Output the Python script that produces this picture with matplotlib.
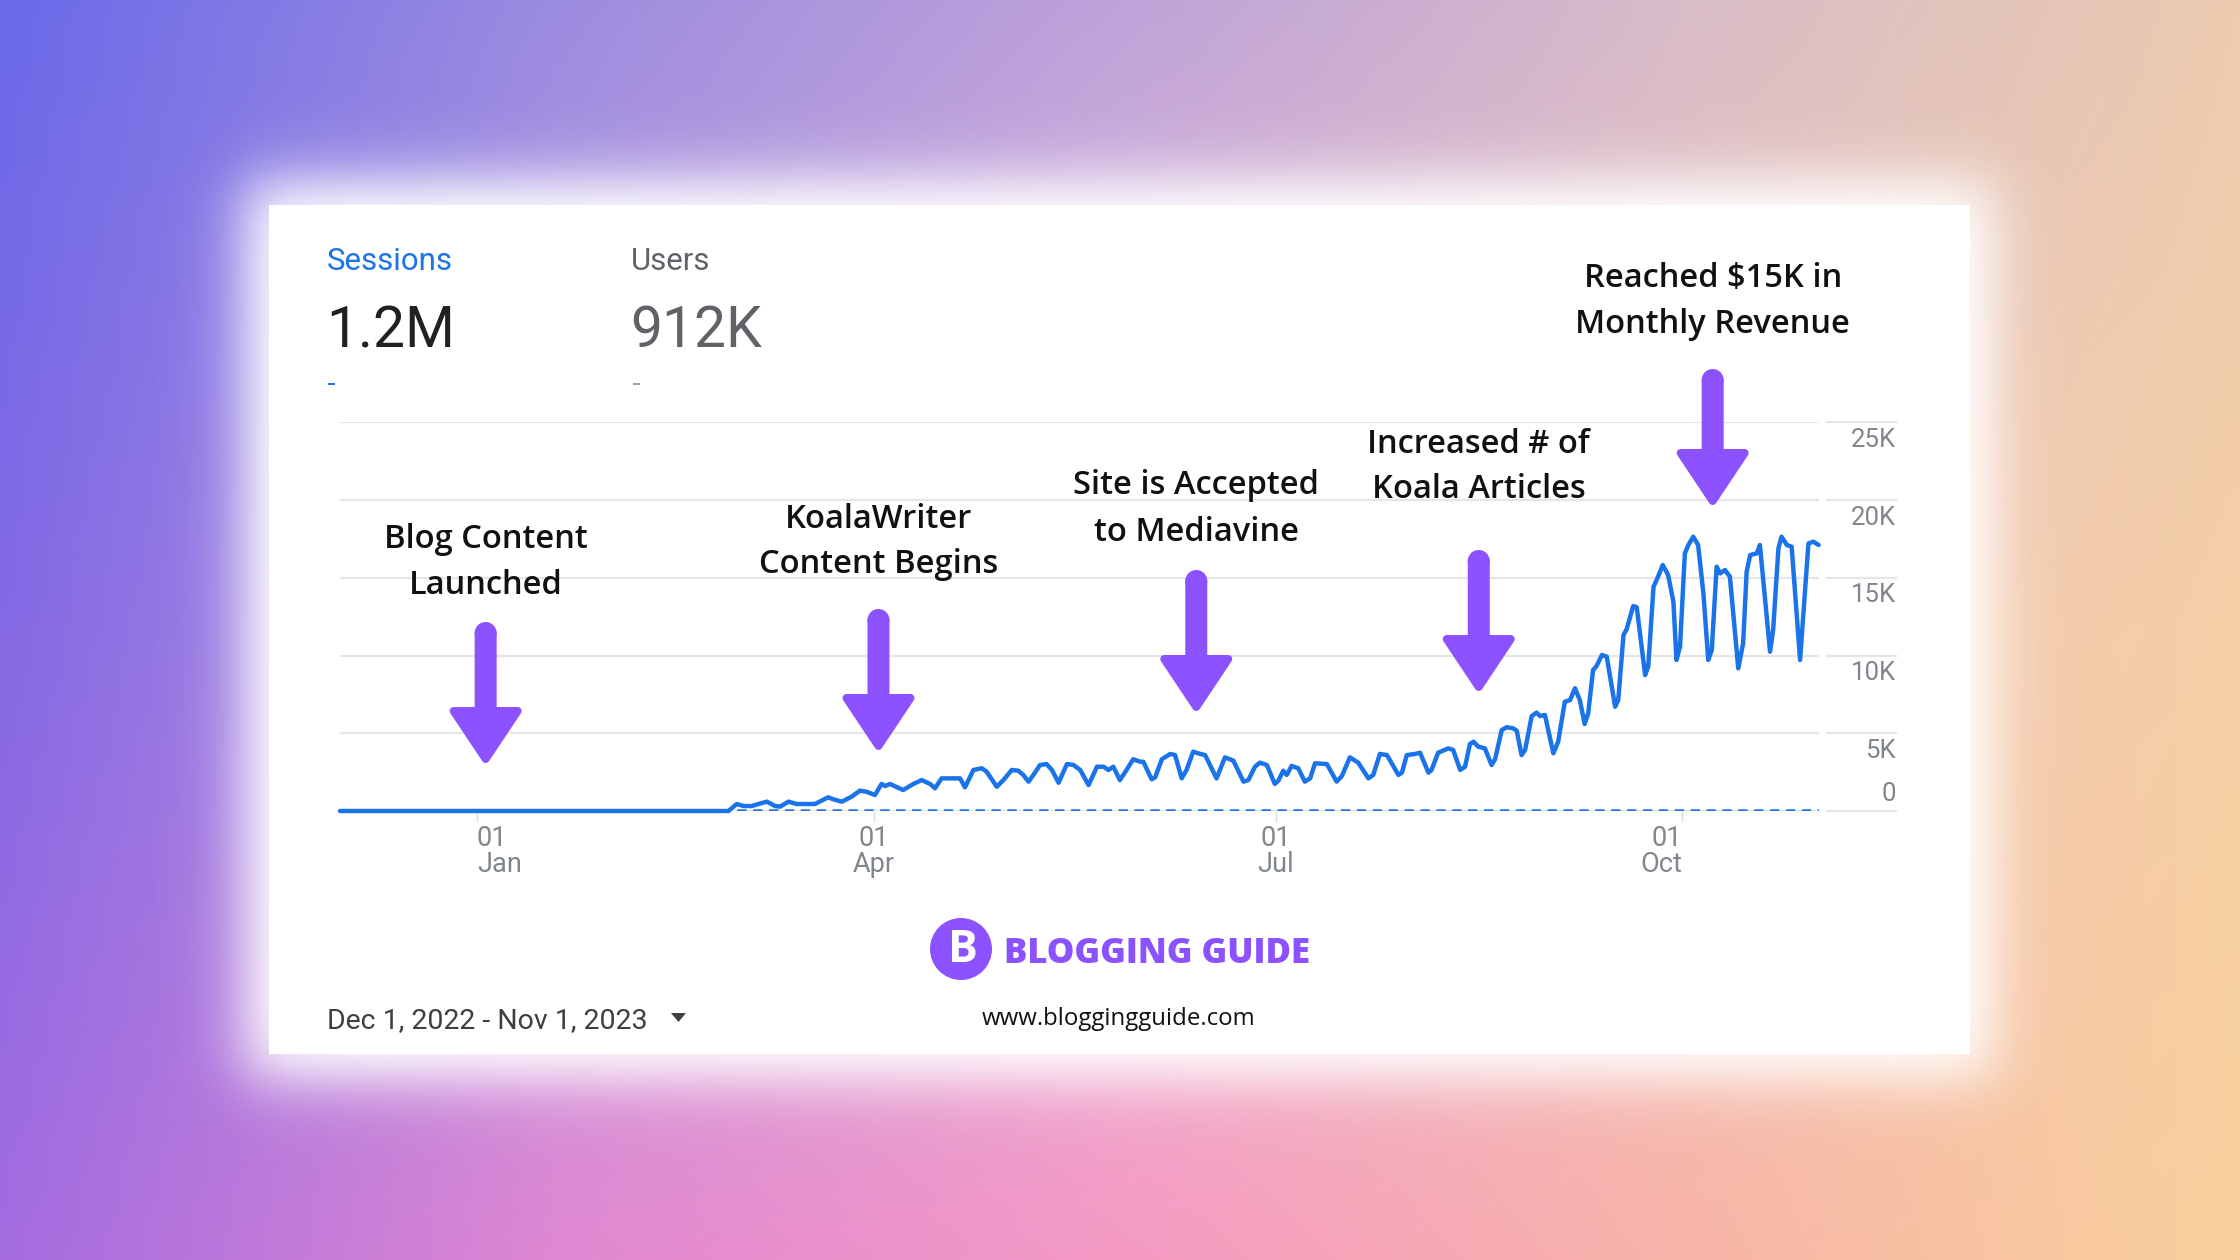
import numpy as np
import pandas as pd
import matplotlib
matplotlib.use("Agg")
import matplotlib.pyplot as plt
import matplotlib.transforms as mtransforms
from matplotlib.patches import Rectangle, Circle, Polygon

# ---------------- data ----------------
start_date = "2022-12-01"
end_date = "2023-11-01"

day_offsets = [
    0, 88.0, 89.9, 91.4, 93.3, 94.8, 96.7, 98.6, 99.7, 101.6,
    103.5, 107.6, 110.6, 111.8, 113.7, 115.9, 117.8, 119.3, 121.2, 122.7,
    123.5, 124.6, 127.6, 129.9, 131.8, 133.7, 134.8, 136.3, 140.5, 141.6,
    143.5, 145.4, 146.5, 148.8, 150.3, 152.2, 153.7, 154.8, 156.0, 157.1,
    158.6, 160.1, 161.3, 162.8, 164.7, 166.2, 167.7, 169.6, 171.5, 173.0,
    174.1, 175.2, 176.7, 178.2, 179.7, 181.3, 182.0, 183.9, 184.7, 186.2,
    188.1, 189.2, 190.7, 191.8, 193.3, 194.9, 196.0, 198.6, 200.5, 202.4,
    204.7, 205.8, 207.3, 208.4, 210.0, 211.8, 212.6, 213.7, 214.5, 215.6,
    217.1, 218.6, 219.8, 220.9, 223.6, 225.8, 227.0, 228.8, 230.7, 233.0,
    234.1, 235.6, 237.2, 239.8, 240.6, 241.7, 243.6, 244.7, 246.6, 247.3,
    248.8, 251.1, 252.2, 253.8, 254.9, 256.0, 256.8, 257.9, 259.4, 260.9,
    261.7, 263.2, 264.3, 265.8, 266.6, 267.7, 268.5, 270.0, 271.1, 271.9,
    273.0, 274.9, 276.0, 277.5, 278.7, 279.8, 280.9, 282.0, 282.8, 283.9,
    284.7, 285.9, 287.0, 288.9, 289.6, 290.8, 291.5, 293.0, 293.8, 295.7,
    296.4, 297.6, 298.3, 299.7, 300.9, 302.1, 302.8, 303.6, 304.7, 305.5,
    306.6, 307.7, 308.9, 310.0, 310.8, 311.9, 312.7, 313.8, 314.9, 316.8,
    317.9, 318.7, 319.5, 321.0, 321.7, 324.0, 324.7, 325.9, 326.6, 327.8,
    328.9, 330.8, 332.7, 333.8, 335.0,
]

sessions = [
    0, 0, 450, 320, 320, 450, 600, 320, 280, 600,
    450, 450, 880, 750, 600, 920, 1310, 1240, 1030, 1740,
    1610, 1740, 1350, 1740, 1990, 1740, 1460, 2100, 2100, 1520,
    2640, 2750, 2530, 1560, 1990, 2640, 2590, 2320, 1890, 2320,
    2960, 3020, 2640, 1820, 3020, 2960, 2640, 1670, 2850, 2850,
    2640, 2850, 1990, 2640, 3330, 3170, 3170, 2040, 2170, 3330,
    3670, 3600, 2100, 2640, 3820, 3670, 3600, 2100, 3450, 3240,
    1890, 1990, 2850, 3110, 2960, 1740, 1950, 2590, 2320, 2900,
    2750, 1890, 2100, 3070, 3020, 1890, 2250, 3450, 3110, 2100,
    2320, 3670, 3600, 2320, 2470, 3600, 3670, 3750, 2470, 2640,
    3750, 4030, 3930, 2640, 2850, 4310, 4460, 4140, 4030, 2960,
    3330, 5210, 5390, 5320, 5170, 3600, 3930, 6110, 6330, 6110,
    6180, 3710, 4460, 7030, 7140, 7900, 7140, 5600, 6290, 9070,
    9330, 10040, 9930, 6710, 7140, 11330, 11690, 13190, 13110, 8750,
    9290, 14430, 14860, 15830, 15190, 13470, 9720, 10570, 16580, 17120,
    17650, 17120, 14010, 9720, 10360, 15720, 15290, 15510, 15080, 9180,
    10790, 15400, 16470, 16580, 17120, 10250, 11650, 16900, 17650, 17120,
    17010, 9720, 17220, 17330, 17120,
]

comparison_days = [0, 335]
comparison_sessions = [0, 0]

y_ticks = [0, 5000, 10000, 15000, 20000, 25000]
y_tick_labels = ["0", "5K", "10K", "15K", "20K", "25K"]
x_tick_dates = ["2023-01-01", "2023-04-01", "2023-07-01", "2023-10-01"]
x_tick_labels = ["01\nJan", "01\nApr", "01\nJul", "01\nOct"]

kpi_names = ["Sessions", "Users"]
kpi_values = ["1.2M", "912K"]

annotation_days = [33, 122, 194, 258, 311]
annotation_lines = [
    ("Blog Content", "Launched"),
    ("KoalaWriter", "Content Begins"),
    ("Site is Accepted", "to Mediavine"),
    ("Increased # of", "Koala Articles"),
    ("Reached $15K in", "Monthly Revenue"),
]

date_range_label = "Dec 1, 2022 - Nov 1, 2023"
brand_name = "BLOGGING GUIDE"
brand_url = "www.bloggingguide.com"

# ---------------- layout / style ----------------
W, H = 2240, 1260
PURPLE = "#8C52FF"
BLUE = "#1A73E8"
GRID = "#E6E6E6"
TICKC = "#80868B"

fig = plt.figure(figsize=(W / 100, H / 100), dpi=100)

# background gradient
bg = fig.add_axes([0, 0, 1, 1])
bg.set_xlim(0, W)
bg.set_ylim(H, 0)
bg.axis("off")

def hex2rgb(h):
    h = h.lstrip("#")
    return [int(h[i:i + 2], 16) / 255 for i in (0, 2, 4)]

grid_cols = [
    ["#6A6AE9", "#9C8CE0", "#BFA2D9", "#D8BCC8", "#ECCBB0"],
    ["#8469E4", "#B898E0", "#E6BEDC", "#F0C6BC", "#F5CFA5"],
    ["#A46CE0", "#E088D2", "#F59AC4", "#F8B4A8", "#F9D19C"],
]
gx = np.linspace(0, 1, 5)
gy = np.linspace(0, 1, 3)
xs = np.linspace(0, 1, W // 4)
ys = np.linspace(0, 1, H // 4)
rows = []
for r in grid_cols:
    rgb = np.array([hex2rgb(c) for c in r])
    rows.append(np.stack([np.interp(xs, gx, rgb[:, k]) for k in range(3)], axis=-1))
rows = np.array(rows)
img = np.empty((len(ys), len(xs), 3))
for k in range(3):
    for j in range(len(xs)):
        img[:, j, k] = np.interp(ys, gy, rows[:, j, k])
bg.imshow(img, extent=[0, W, H, 0], aspect="auto", interpolation="bilinear", zorder=0)

# white glow around card
cx0, cx1, cy0, cy1 = 269, 1970, 205, 1054
X, Y = np.meshgrid(np.arange(0, W, 2) + 1, np.arange(0, H, 2) + 1)
s = 18.0
ext = 24
ax_ = 1 / (1 + np.exp(-(X - (cx0 - ext)) / s)) * 1 / (1 + np.exp((X - (cx1 + ext)) / s))
ay_ = 1 / (1 + np.exp(-(Y - (cy0 - ext)) / s)) * 1 / (1 + np.exp((Y - (cy1 + ext)) / s))
alpha = np.clip(ax_ * ay_ * 1.05, 0, 1)
glow = np.ones((alpha.shape[0], alpha.shape[1], 4))
glow[..., 3] = alpha
bg.imshow(glow, extent=[0, W, H, 0], aspect="auto", interpolation="bilinear", zorder=1)
bg.add_patch(Rectangle((cx0, cy0), cx1 - cx0, cy1 - cy0, facecolor="white", edgecolor="none", zorder=2))

# ---------------- main chart ----------------
t0 = pd.Timestamp(start_date)
t1 = pd.Timestamp(end_date)
dates = t0 + pd.to_timedelta(day_offsets, unit="D")
cmp_dates = t0 + pd.to_timedelta(comparison_days, unit="D")

left_px, right_px, base_px, top_px = 340, 1818.6, 811, 422.5
ax = fig.add_axes([left_px / W, (H - base_px) / H, (right_px - left_px) / W, (base_px - top_px) / H])
ax.patch.set_visible(False)
for sp in ax.spines.values():
    sp.set_visible(False)
ax.set_xlim(t0, t1)
ax.set_ylim(0, 25000)

for v in y_ticks:
    ax.axhline(v, color=GRID, lw=1.6, zorder=1)

ax.plot(cmp_dates, comparison_sessions, color="#2A7AE6", lw=2.6, dashes=(2.6, 1.8), zorder=2)
ax.plot(dates, sessions, color=BLUE, lw=3.2, solid_joinstyle="round", solid_capstyle="round",
        zorder=3, clip_on=False)

ax.set_yticks([])
ax.set_xticks(pd.to_datetime(x_tick_dates))
labs = ax.set_xticklabels(x_tick_labels, fontsize=19.5, color=TICKC, family="Roboto")
for lab, ha in zip(labs, ["left", "center", "center", "right"]):
    lab.set_ha(ha)
    lab.set_multialignment(ha)
    lab.set_linespacing(0.95)
ax.tick_params(axis="x", length=8, width=1.0, color="#DADCE0", pad=2)

blend = mtransforms.blended_transform_factory(ax.transAxes, ax.transData)
xl = (1896 - left_px) / (right_px - left_px)
g0 = (1827 - left_px) / (right_px - left_px)
for v, lab in zip(y_ticks, y_tick_labels):
    ax.plot([g0, xl], [v, v], transform=blend, color=GRID, lw=1.6, clip_on=False)
    off = 17 if v == 0 else -17.5
    tr = mtransforms.offset_copy(blend, fig=fig, x=0, y=off, units="dots")
    ax.text(xl, v, lab, transform=tr, ha="right", va="center", fontsize=18.5, color=TICKC,
            family="Roboto")

# ---------------- overlay (texts, arrows, header) ----------------
ov = fig.add_axes([0, 0, 1, 1])
ov.set_xlim(0, W)
ov.set_ylim(H, 0)
ov.axis("off")
ov.patch.set_visible(False)

# KPI header
ov.text(327, 270, kpi_names[0], fontsize=22.5, color=BLUE, family="Roboto", va="baseline", ha="left")
ov.text(631, 270, kpi_names[1], fontsize=22.5, color="#5F6368", family="Roboto", va="baseline", ha="left")
ov.text(326, 347, kpi_values[0], fontsize=41, color="#202124", family="Roboto", va="baseline", ha="left")
ov.text(630, 347, kpi_values[1], fontsize=41, color="#5F6368", family="Roboto", va="baseline", ha="left")
ov.add_patch(Rectangle((328, 383), 7, 2, facecolor=BLUE, edgecolor="none"))
ov.add_patch(Rectangle((633, 383), 7, 2, facecolor="#9AA0A6", edgecolor="none"))

# annotations + arrows
arrow_tops = [622, 609, 570, 550, 369]
arrow_tips = [763, 750, 711, 691, 505]
text_baselines = [(548, 594), (528, 573), (494, 541), (453, 498), (287, 333)]
shaft_w, head_w, head_l, rnd = 22, 72, 52, 4
for d, (l1, l2), top, tip, (b1, b2) in zip(annotation_days, annotation_lines, arrow_tops,
                                          arrow_tips, text_baselines):
    xd = t0 + pd.Timedelta(days=d)
    xpx = ax.transData.transform((matplotlib.dates.date2num(xd), 0))[0]
    for txt, b in ((l1, b1), (l2, b2)):
        ov.text(xpx, b, txt, fontsize=23.5, color="#111111", family="Open Sans",
                fontweight="semibold", ha="center", va="baseline")
    hw = shaft_w / 2 - rnd
    hh = head_w / 2 - rnd
    vt = tip - rnd
    vb = tip - head_l
    pts = [(xpx - hw, top + shaft_w / 2), (xpx + hw, top + shaft_w / 2), (xpx + hw, vb),
           (xpx + hh, vb), (xpx, vt), (xpx - hh, vb), (xpx - hw, vb)]
    ov.add_patch(Polygon(pts, closed=True, facecolor=PURPLE, edgecolor=PURPLE,
                         lw=rnd * 2 * 0.72, joinstyle="round"))
    ov.add_patch(Circle((xpx, top + shaft_w / 2), shaft_w / 2, facecolor=PURPLE, edgecolor="none"))

# footer: brand
ov.add_patch(Circle((961, 949), 31, facecolor=PURPLE, edgecolor="none"))
ov.text(963, 951, "B", fontsize=32, color="white", family="Open Sans", fontweight="bold",
        ha="center", va="center")
ov.text(1004, 963, brand_name, fontsize=25, color=PURPLE, family="Open Sans", fontweight="heavy",
        ha="left", va="baseline")
ov.text(1119, 1025, brand_url, fontsize=17.3, color="#111111", family="Open Sans",
        ha="center", va="baseline")

# date range selector
ov.text(327, 1028, date_range_label, fontsize=20.5, color="#3C4043", family="Roboto",
        ha="left", va="baseline")
ov.add_patch(Polygon([(671, 1013), (686, 1013), (678.5, 1022)], closed=True,
                     facecolor="#3C4043", edgecolor="none"))

fig.savefig("out.png", dpi=100)
